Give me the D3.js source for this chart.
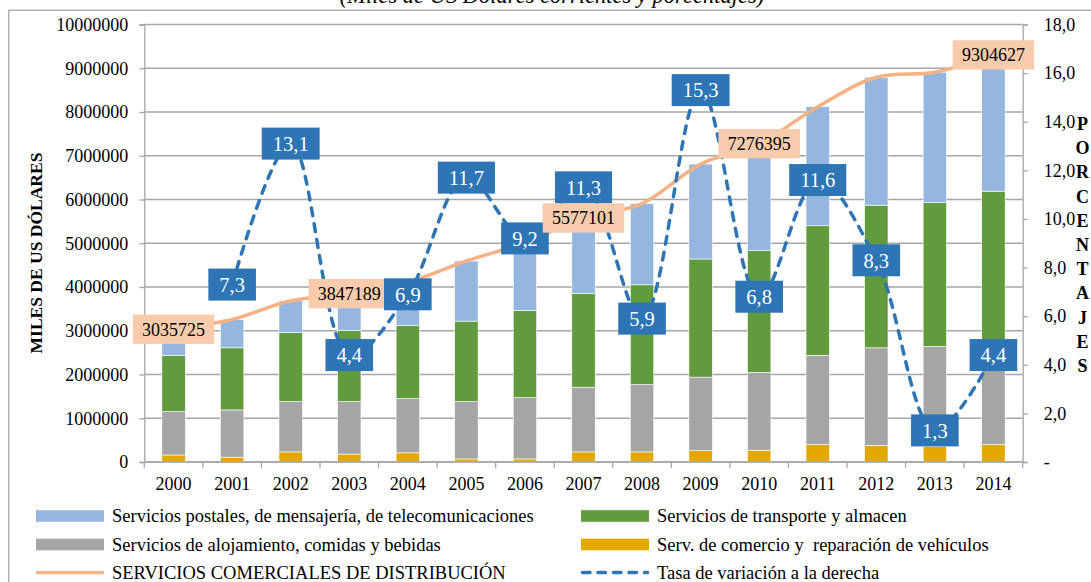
<!DOCTYPE html>
<html>
<head>
<meta charset="utf-8">
<script src="https://cdn.jsdelivr.net/npm/d3@7"></script>
<style>
  html, body { margin: 0; padding: 0; background: #fff; }
  svg { display: block; font-family: "Liberation Serif", "Times New Roman", serif; }
</style>
</head>
<body>
<svg id="chart" width="1091" height="582"></svg>
<script>
// years on the x axis
const years = ['2000', '2001', '2002', '2003', '2004', '2005', '2006', '2007',
  '2008', '2009', '2010', '2011', '2012', '2013', '2014'];

// stacked segments, miles de US dólares
const comercio = [160000, 110000, 230000, 180000, 210000, 70000, 70000, 230000,
  230000, 260000, 270000, 400000, 380000, 360000, 400000];
const alojamiento = [990000, 1080000, 1150000, 1200000, 1240000, 1310000, 1400000, 1480000,
  1540000, 1680000, 1780000, 2040000, 2230000, 2280000, 2350000];
const transporte = [1290000, 1420000, 1580000, 1630000, 1670000, 1840000, 1990000, 2140000,
  2280000, 2700000, 2780000, 2960000, 3260000, 3290000, 3440000];
const postales = [595725, 647000, 724000, 837189, 993000, 1374000, 1556000, 1727101,
  1856000, 2170000, 2446395, 2720000, 2924000, 2979000, 3114627];

// line series
const totalDistribucion = [3035725, 3257000, 3684000, 3847189, 4113000, 4594000, 5016000, 5577101,
  5906000, 6810000, 7276395, 8120000, 8794000, 8909000, 9304627];
const tasaVariacion = [null, 7.3, 13.1, 4.4, 6.9, 11.7, 9.2, 11.3, 5.9, 15.3, 6.8, 11.6, 8.3, 1.3, 4.4];
const totalLabelYears = ['2000', '2003', '2007', '2010', '2014'];

// tick labels
const leftTicks = [0, 1000000, 2000000, 3000000, 4000000, 5000000, 6000000, 7000000, 8000000, 9000000, 10000000];
const rightTicks = [0, 2, 4, 6, 8, 10, 12, 14, 16, 18];
const rightTitle = 'PORCENTAJES';

const serieNames = {
  postales: 'Servicios postales, de mensajería, de telecomunicaciones',
  transporte: 'Servicios de transporte y almacen',
  alojamiento: 'Servicios de alojamiento, comidas y bebidas',
  comercio: 'Serv. de comercio y  reparación de vehículos',
  total: 'SERVICIOS COMERCIALES DE DISTRIBUCIÓN',
  tasa: 'Tasa de variación a la derecha'
};

const colors = {
  comercio: '#e3a800',
  alojamiento: '#a5a5a5',
  transporte: '#629b3d',
  postales: '#95b7df',
  total: '#f6b286',
  totalLabel: '#f8cbad',
  tasa: '#2e75b6'
};

const svg = d3.select('#chart');
const plotLeft = 144.3, plotRight = 1022.7, plotTop = 24.5, plotBottom = 462;

// outer frame + (cut) title
svg.append('rect')
  .attr('x', 8.8).attr('y', 10.3).attr('width', 1200).attr('height', 700)
  .attr('fill', 'none').attr('stroke', '#a6a6a6').attr('stroke-width', 1.3);

svg.append('text')
  .attr('x', 552).attr('y', 3)
  .attr('text-anchor', 'middle')
  .style('font-size', '22.5px').style('font-style', 'italic')
  .text('(Miles de US Dólares corrientes y porcentajes)');

const x = d3.scaleBand().domain(years).range([plotLeft, plotRight]).paddingInner(0.6).paddingOuter(0.3);
const yL = d3.scaleLinear().domain([0, 10000000]).range([plotBottom, plotTop]);
const yR = d3.scaleLinear().domain([0, 18]).range([plotBottom, plotTop]);
const cx = d => x(d) + x.bandwidth() / 2;

// gridlines
svg.append('g').selectAll('line')
  .data(leftTicks)
  .join('line')
  .attr('x1', plotLeft).attr('x2', plotRight)
  .attr('y1', d => yL(d)).attr('y2', d => yL(d))
  .attr('stroke', '#a6a6a6').attr('stroke-width', 1.3);

// stacked bars
const table = years.map((yr, i) => ({
  year: yr,
  comercio: comercio[i],
  alojamiento: alojamiento[i],
  transporte: transporte[i],
  postales: postales[i]
}));
const keys = ['comercio', 'alojamiento', 'transporte', 'postales'];
const stacked = d3.stack().keys(keys)(table);

svg.append('g').selectAll('g')
  .data(stacked)
  .join('g')
  .attr('fill', d => colors[d.key])
  .selectAll('rect')
  .data(d => d)
  .join('rect')
  .attr('x', d => x(d.data.year))
  .attr('width', x.bandwidth())
  .attr('y', d => yL(d[1]))
  .attr('height', d => yL(d[0]) - yL(d[1]))
  .attr('stroke', '#ffffff').attr('stroke-width', 0.6);

// left axis
const axL = svg.append('g')
  .attr('transform', `translate(${plotLeft},0)`)
  .call(d3.axisLeft(yL).tickValues(leftTicks).tickSize(5).tickPadding(11).tickFormat(d3.format('d')));
axL.select('.domain').attr('stroke', '#a6a6a6').attr('stroke-width', 1.3);
axL.selectAll('.tick line').attr('stroke', '#a6a6a6').attr('stroke-width', 1.3);
axL.selectAll('text').style('font-size', '18px').attr('fill', '#000')
  .style('font-family', '"Liberation Serif", "Times New Roman", serif');

// right axis
const axR = svg.append('g')
  .attr('transform', `translate(${plotRight},0)`)
  .call(d3.axisRight(yR).tickValues(rightTicks).tickSize(5).tickPadding(16)
    .tickFormat(d => d === 0 ? '-' : d.toFixed(1).replace('.', ',')));
axR.select('.domain').attr('stroke', '#a6a6a6').attr('stroke-width', 1.3);
axR.selectAll('.tick line').attr('stroke', '#a6a6a6').attr('stroke-width', 1.3);
axR.selectAll('text').style('font-size', '18px').attr('fill', '#000')
  .style('font-family', '"Liberation Serif", "Times New Roman", serif');

// bottom axis
const axB = svg.append('g')
  .attr('transform', `translate(0,${plotBottom})`)
  .call(d3.axisBottom(x).tickSize(0).tickPadding(15));
axB.select('.domain').remove();
axB.selectAll('text').style('font-size', '18px').attr('fill', '#000')
  .style('font-family', '"Liberation Serif", "Times New Roman", serif');
const bounds = years.map(d => x(d) - x.step() * x.paddingOuter()).concat([plotRight]);
svg.append('line')
  .attr('x1', plotLeft).attr('x2', plotRight).attr('y1', plotBottom).attr('y2', plotBottom)
  .attr('stroke', '#a6a6a6').attr('stroke-width', 1.3);
svg.append('g').selectAll('line')
  .data(bounds)
  .join('line')
  .attr('x1', d => d).attr('x2', d => d)
  .attr('y1', plotBottom).attr('y2', plotBottom + 6)
  .attr('stroke', '#a6a6a6').attr('stroke-width', 1.3);

// axis titles
svg.append('text')
  .attr('transform', 'translate(42,253) rotate(-90)')
  .attr('text-anchor', 'middle')
  .style('font-size', '17.5px').style('font-weight', 'bold')
  .text('MILES DE US DÓLARES');

svg.append('g').selectAll('text')
  .data(rightTitle.split(''))
  .join('text')
  .attr('x', 1082.5)
  .attr('y', (d, i) => 130 + i * 24.2)
  .attr('text-anchor', 'middle')
  .style('font-size', '18px').style('font-weight', 'bold')
  .text(d => d);

// total line
const lineTotal = d3.line()
  .x((d, i) => cx(years[i]))
  .y(d => yL(d))
  .curve(d3.curveCatmullRom);
svg.append('path')
  .attr('d', lineTotal(totalDistribucion))
  .attr('fill', 'none').attr('stroke', colors.total).attr('stroke-width', 3.5)
  .attr('stroke-linecap', 'round');

// rate line
const rates = tasaVariacion.map((v, i) => ({ year: years[i], v })).filter(d => d.v !== null);
const lineTasa = d3.line()
  .x(d => cx(d.year))
  .y(d => yR(d.v))
  .curve(d3.curveCatmullRom);
svg.append('path')
  .attr('d', lineTasa(rates))
  .attr('fill', 'none').attr('stroke', colors.tasa).attr('stroke-width', 3.5)
  .attr('stroke-dasharray', '8,8').attr('stroke-linecap', 'round');

// data labels, drawn year by year (rate label first, then total label)
const labels = [];
years.forEach((yr, i) => {
  if (tasaVariacion[i] !== null) {
    labels.push({ kind: 'tasa', x: cx(yr), y: yR(tasaVariacion[i]), text: tasaVariacion[i].toFixed(1).replace('.', ',') });
  }
  if (totalLabelYears.includes(yr)) {
    labels.push({ kind: 'total', x: cx(yr), y: yL(totalDistribucion[i]), text: String(totalDistribucion[i]) });
  }
});

const lbl = svg.append('g').selectAll('g')
  .data(labels)
  .join('g');
lbl.each(function (d) {
  const g = d3.select(this);
  const big = d.kind === 'tasa';
  const rect = g.append('rect');
  const t = g.append('text')
    .attr('x', d.x)
    .attr('y', d.y + (big ? 7.3 : 6.4))
    .attr('text-anchor', 'middle')
    .style('font-size', big ? '20.5px' : '18px')
    .attr('fill', big ? '#ffffff' : '#000000')
    .text(d.text);
  const w = t.node().getComputedTextLength() + (big ? 22 : 18.5);
  const h = big ? 32 : 29.3;
  rect.attr('x', d.x - w / 2).attr('y', d.y - h / 2)
    .attr('width', w).attr('height', h)
    .attr('fill', big ? colors.tasa : colors.totalLabel);
});

// legend
const legendItems = [
  { key: 'postales', type: 'bar', x: 36, y: 516 },
  { key: 'transporte', type: 'bar', x: 581, y: 516 },
  { key: 'alojamiento', type: 'bar', x: 36, y: 544.5 },
  { key: 'comercio', type: 'bar', x: 581, y: 544.5 },
  { key: 'total', type: 'line', x: 36, y: 572.5 },
  { key: 'tasa', type: 'dash', x: 581, y: 572.5 }
];
const lg = svg.append('g').selectAll('g')
  .data(legendItems)
  .join('g');
lg.filter(d => d.type === 'bar').append('rect')
  .attr('x', d => d.x).attr('y', d => d.y - 5.8)
  .attr('width', 68).attr('height', 11.6)
  .attr('fill', d => colors[d.key]);
lg.filter(d => d.type !== 'bar').append('line')
  .attr('x1', d => d.x + 1.5).attr('x2', d => d.x + 66.5)
  .attr('y1', d => d.y).attr('y2', d => d.y)
  .attr('stroke', d => colors[d.key]).attr('stroke-width', 3.5)
  .attr('stroke-linecap', 'round')
  .attr('stroke-dasharray', d => d.type === 'dash' ? '7.5,8' : null);
lg.append('text')
  .attr('x', d => d.x + 76)
  .attr('y', d => d.y + 6)
  .style('font-size', '18.5px')
  .style('white-space', 'pre')
  .text(d => serieNames[d.key]);
</script>
</body>
</html>
